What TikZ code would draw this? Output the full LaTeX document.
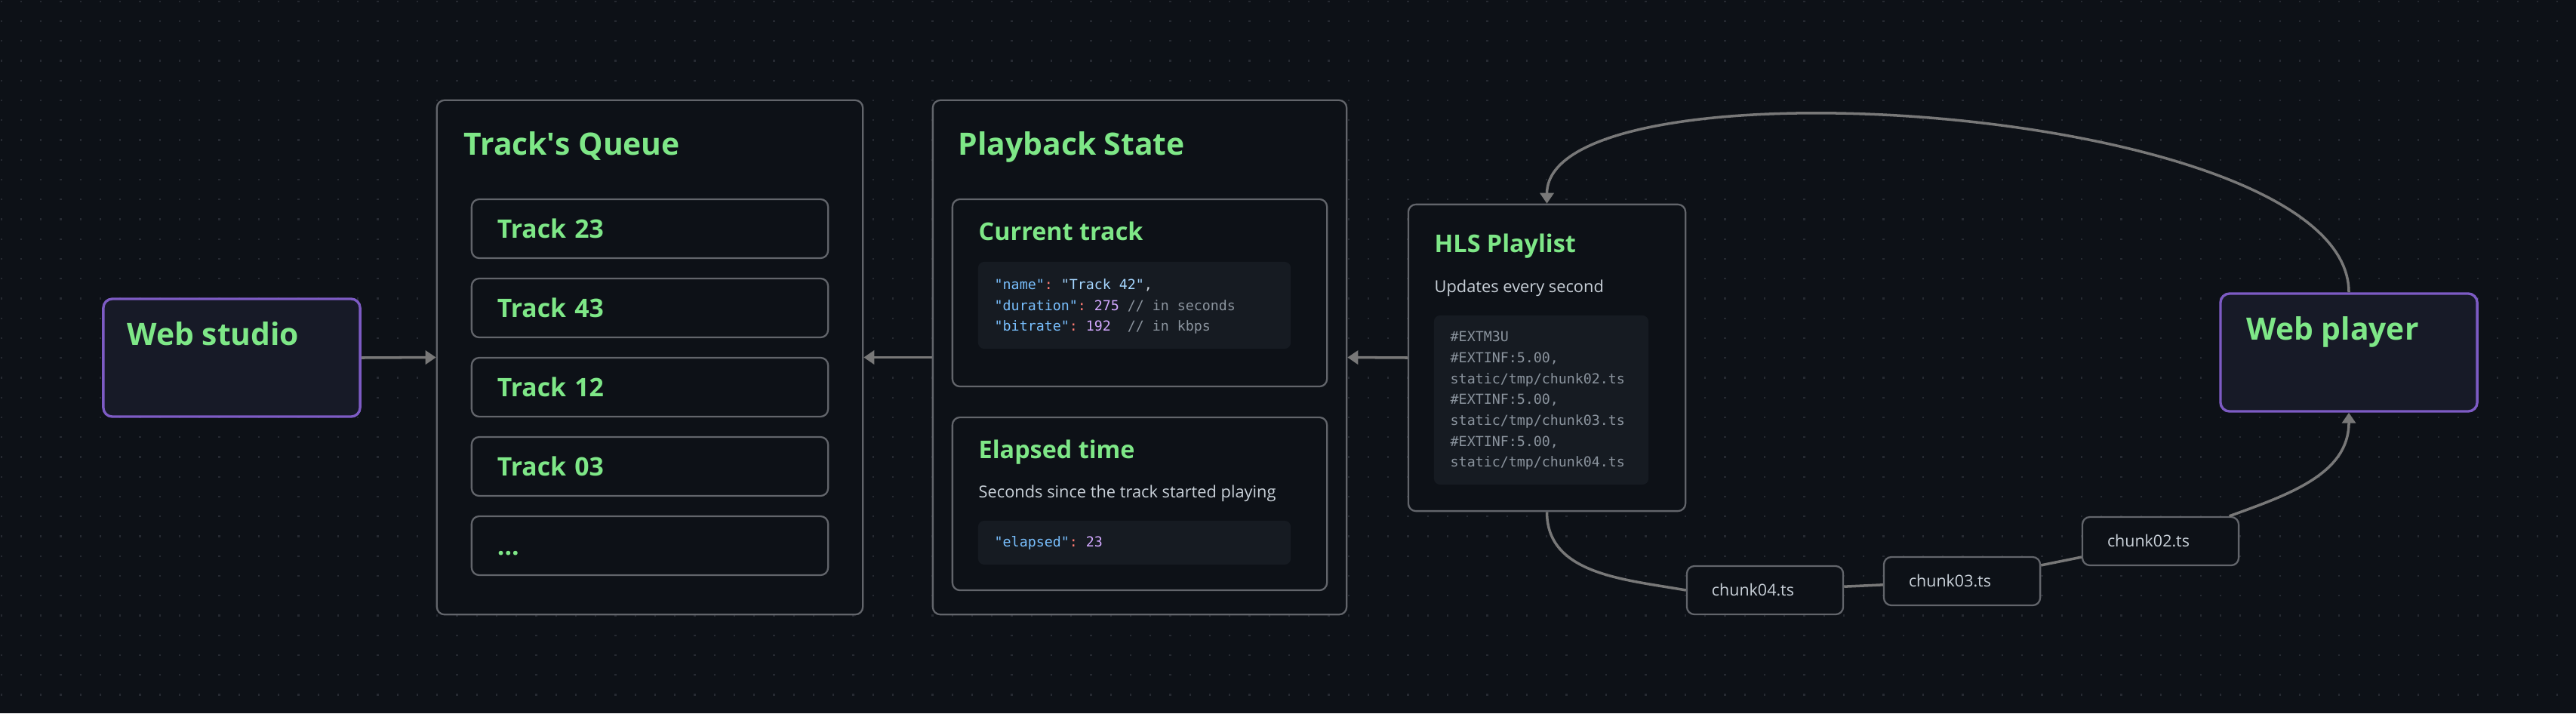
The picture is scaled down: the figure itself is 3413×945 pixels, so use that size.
\documentclass[tikz,border=0pt]{standalone}
\usepackage{fontspec}
\setmainfont{Open Sans}
\setmonofont{DejaVu Sans Mono}
\usetikzlibrary{arrows.meta,positioning}

\definecolor{bgdark}{RGB}{13,17,23}
\definecolor{griddot}{RGB}{38,42,50}
\definecolor{boxgray}{RGB}{98,101,107}
\definecolor{linegray}{RGB}{120,120,120}
\definecolor{hlgreen}{RGB}{126,231,135}
\definecolor{studiofill}{RGB}{23,26,39}
\definecolor{studioedge}{RGB}{125,91,196}
\definecolor{codefill}{RGB}{22,27,34}
\definecolor{softtext}{RGB}{201,209,217}
\definecolor{codekey}{RGB}{121,192,255}
\definecolor{codestr}{RGB}{165,214,255}
\definecolor{codecolon}{RGB}{255,123,114}
\definecolor{codenum}{RGB}{210,168,255}
\definecolor{codegray}{RGB}{139,148,158}

\begin{document}
\begin{tikzpicture}[x=0.01cm,y=0.01cm,
  panel/.style={draw=boxgray,line width=0.65pt,fill=bgdark,rounded corners=0.1cm,inner sep=0pt},
  client/.style={draw=studioedge,line width=0.95pt,fill=studiofill,rounded corners=0.12cm,
    minimum width=3.4cm,minimum height=1.56cm,inner sep=0pt},
  trackbox/.style={panel,minimum width=4.72cm,minimum height=0.78cm,text width=4.04cm,
    inner xsep=0.34cm,align=left,text height=0.25cm,text depth=0pt,
    font=\fontsize{9.6}{11}\selectfont\bfseries,text=hlgreen},
  chunk/.style={panel,minimum width=2.07cm,minimum height=0.64cm,text width=1.41cm,
    inner xsep=0.33cm,align=left,text height=0.15cm,text depth=0pt,
    font=\fontsize{6.1}{7}\selectfont,text=softtext},
  codebox/.style={fill=codefill,rounded corners=0.08cm,inner sep=0pt},
  ttl/.style={anchor=base west,inner sep=0pt,text=hlgreen,font=\fontsize{11.6}{13}\selectfont\bfseries},
  subttl/.style={ttl,font=\fontsize{9.2}{11}\selectfont\bfseries},
  note/.style={anchor=base west,inner sep=0pt,text=softtext,font=\fontsize{6.2}{7.5}\selectfont},
  code/.style={anchor=base west,inner sep=0pt,font=\ttfamily\fontsize{5.2}{7.9}\selectfont},
  conn/.style={draw=linegray,line width=1pt,-{Triangle[length=0.14cm,width=0.18cm]}},
  link/.style={draw=linegray,line width=1pt}]

% background with dot grid
\fill[bgdark] (0,0) rectangle (3413,-945);
\foreach \i in {0,...,129}{
  \foreach \j in {0,...,35}{
    \fill[griddot] (0.7+\i*26.25,-0.7-\j*26.25) rectangle ++(2.2,-2.2);
  }
}
\useasboundingbox (0,0) rectangle (3413,-945);

% clients
\node[client] (studio) at (307,-474) {};
\node[ttl] (studiottl) at (168,-457) {Web studio};
\node[client] (player) at (3112,-467) {};
\node[ttl] (playerttl) at (2976,-450) {Web player};

% queue
\node[panel,minimum width=5.64cm,minimum height=6.81cm] (queue) at (861,-473.5) {};
\node[ttl] (queuettl) at (614,-205) {Track\textquotesingle s Queue};
\node[trackbox] (t23) at (861,-303) {Track 23};
\node[trackbox] (t43) at (861,-408) {Track 43};
\node[trackbox] (t12) at (861,-513) {Track 12};
\node[trackbox] (t03) at (861,-618) {Track 03};
\node[trackbox] (tmore) at (861,-723) {...};

% playback state
\node[panel,minimum width=5.48cm,minimum height=6.81cm] (playback) at (1510,-473.5) {};
\node[ttl] (statettl) at (1269,-205) {Playback State};
\node[panel,minimum width=4.96cm,minimum height=2.48cm] (current) at (1510,-388) {};
\node[subttl] (currentttl) at (1296,-318) {Current track};
\node[codebox,minimum width=4.14cm,minimum height=1.15cm] (ctcode) at (1503,-404.5) {};
\node[code] (ctline1) at (1317,-383) {\textcolor{codekey}{"name"}\textcolor{codecolon}{:} \textcolor{codestr}{"Track 42"}\textcolor{softtext}{,}};
\node[code] (ctline2) at (1317,-411) {\textcolor{codekey}{"duration"}\textcolor{codecolon}{:} \textcolor{codenum}{275} \textcolor{codegray}{// in seconds}};
\node[code] (ctline3) at (1317,-438) {\textcolor{codekey}{"bitrate"}\textcolor{codecolon}{:} \textcolor{codenum}{192}\ \ \textcolor{codegray}{// in kbps}};
\node[panel,minimum width=4.96cm,minimum height=2.29cm] (elapsed) at (1510,-667.5) {};
\node[subttl] (elapsedttl) at (1296,-607) {Elapsed time};
\node[note] (elapsednote) at (1296,-659) {Seconds since the track started playing};
\node[codebox,minimum width=4.14cm,minimum height=0.58cm] (elcode) at (1503,-719) {};
\node[code] (elline) at (1317,-724) {\textcolor{codekey}{"elapsed"}\textcolor{codecolon}{:} \textcolor{codenum}{23}};

% hls playlist
\node[panel,minimum width=3.67cm,minimum height=4.06cm] (hls) at (2049.5,-474) {};
\node[subttl] (hlsttl) at (1900,-334.5) {HLS Playlist};
\node[note] (hlsnote) at (1900,-387) {Updates every second};
\node[codebox,minimum width=2.84cm,minimum height=2.24cm] (hlscode) at (2042,-530) {};
\node[code,text=codegray] (pl1) at (1921,-452.7) {\#EXTM3U};
\node[code,text=codegray] (pl2) at (1921,-480.4) {\#EXTINF:5.00,};
\node[code,text=codegray] (pl3) at (1921,-508.1) {static/tmp/chunk02.ts};
\node[code,text=codegray] (pl4) at (1921,-535.8) {\#EXTINF:5.00,};
\node[code,text=codegray] (pl5) at (1921,-563.5) {static/tmp/chunk03.ts};
\node[code,text=codegray] (pl6) at (1921,-591.2) {\#EXTINF:5.00,};
\node[code,text=codegray] (pl7) at (1921,-618.9) {static/tmp/chunk04.ts};

% chunks
\node[chunk] (c04) at (2338.5,-782) {chunk04.ts};
\node[chunk] (c03) at (2599.5,-770) {chunk03.ts};
\node[chunk] (c02) at (2862.5,-717) {chunk02.ts};

% connectors
\draw[conn] (studio.east) -- (queue.west);
\draw[conn] (playback.west) -- (queue.east);
\draw[conn] (hls.west) -- (playback.east);
\draw[conn] (player.north) .. controls +(0,250) and +(0,200) .. (hls.north);
\draw[link] (hls.south) to[out=-90,in=170] (c04.west);
\draw[link] (c04) -- (c03);
\draw[link] (c03) -- (c02);
\draw[conn] (c02) to[out=20,in=-90] (player.south);
\end{tikzpicture}
\end{document}
